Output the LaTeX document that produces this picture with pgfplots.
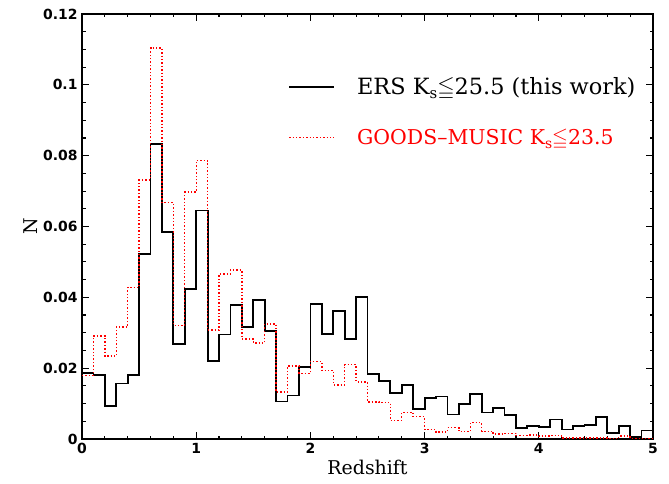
\documentclass[border=0pt]{standalone}
\usepackage{fontspec}
\usepackage{amssymb}
\setmainfont{DejaVu Serif}
\setsansfont{DejaVu Sans}
\usepackage{pgfplots}
\usepackage{pgfplotstable}
\pgfplotsset{compat=1.18}

\pgfplotstableread{
x y
0.0 0.0186
0.1 0.0181
0.2 0.0094
0.3 0.0157
0.4 0.0180
0.5 0.0522
0.6 0.0832
0.7 0.0584
0.8 0.0268
0.9 0.0423
1.0 0.0645
1.1 0.0220
1.2 0.0295
1.3 0.0379
1.4 0.0316
1.5 0.0393
1.6 0.0304
1.7 0.0106
1.8 0.0123
1.9 0.0204
2.0 0.0382
2.1 0.0297
2.2 0.0362
2.3 0.0282
2.4 0.0402
2.5 0.0183
2.6 0.0164
2.7 0.0129
2.8 0.0152
2.9 0.0085
3.0 0.0116
3.1 0.0120
3.2 0.0069
3.3 0.0098
3.4 0.0127
3.5 0.0075
3.6 0.0087
3.7 0.0068
3.8 0.0030
3.9 0.0036
4.0 0.0033
4.1 0.0055
4.2 0.0027
4.3 0.0036
4.4 0.0039
4.5 0.0062
4.6 0.0018
4.7 0.0036
4.8 0.0006
4.9 0.0024
5.0 0.0024
}\ers

\pgfplotstableread{
x y
0.0 0.0179
0.1 0.0291
0.2 0.0234
0.3 0.0316
0.4 0.0428
0.5 0.0731
0.6 0.1104
0.7 0.0667
0.8 0.0321
0.9 0.0697
1.0 0.0786
1.1 0.0308
1.2 0.0466
1.3 0.0477
1.4 0.0282
1.5 0.0271
1.6 0.0325
1.7 0.0133
1.8 0.0206
1.9 0.0185
2.0 0.0219
2.1 0.0194
2.2 0.0153
2.3 0.0210
2.4 0.0161
2.5 0.0105
2.6 0.0103
2.7 0.0053
2.8 0.0075
2.9 0.0063
3.0 0.0027
3.1 0.0020
3.2 0.0032
3.3 0.0021
3.4 0.0046
3.5 0.0022
3.6 0.0014
3.7 0.0016
3.8 0.0010
3.9 0.0011
4.0 0.0008
4.1 0.0010
4.2 0.0003
4.3 0.0003
4.4 0.0003
4.5 0.0003
4.6 0.0001
4.7 0.0008
4.8 0.0002
4.9 0.0001
5.0 0.0001
}\goods

\begin{document}
\begin{tikzpicture}
\begin{axis}[
  scale only axis,
  width=571bp, height=425bp,
  xmin=0, xmax=5, ymin=0, ymax=0.12,
  xtick={0,1,2,3,4,5},
  xticklabels={0,1,2,3,4,5},
  ytick={0,0.02,0.04,0.06,0.08,0.1,0.12},
  yticklabels={0,0.02,0.04,0.06,0.08,0.1,0.12},
  minor x tick num=4,
  minor y tick num=3,
  tick align=inside,
  major tick length=7bp,
  minor tick length=3.5bp,
  axis line style={line width=1.7bp},
  every tick/.style={black, line width=1.1bp},
  tick label style={font=\fontsize{14}{14}\selectfont\sffamily\bfseries},
  /pgf/number format/assume math mode=true,
  xticklabel style={yshift=-1bp},
  yticklabel style={xshift=-1bp},
  xlabel={Redshift},
  ylabel={N},
  label style={font=\fontsize{19}{19}\selectfont},
  xlabel style={yshift=1bp},
  ylabel style={yshift=-2bp},
  legend style={draw=none, fill=none, inner sep=0pt,
    at={(rel axis cs:0.361,0.855)}, anchor=north west,
    row sep=29bp,
    /tikz/every odd column/.append style={column sep=20bp}},
  legend cell align=left,
  legend image code/.code={\draw[#1] (0bp,0bp) -- (45bp,0bp);},
]
\addplot[const plot mark left, black, line width=1.8bp] table[x=x,y=y] {\ers};
\addlegendentry{\fontsize{22.5}{25}\selectfont ERS K\raisebox{-0.35ex}{\fontsize{15}{15}\selectfont s}$\leqq$25.5 (this work)}
\addplot[const plot mark left, red, line width=1.4bp, dash pattern=on 1.4bp off 2bp] table[x=x,y=y] {\goods};
\addlegendentry{\fontsize{20.5}{25}\selectfont\textcolor{red}{GOODS\textendash MUSIC K\raisebox{-0.35ex}{\fontsize{14}{14}\selectfont s}$\leqq$23.5}}
\end{axis}
\pgfresetboundingbox
\path[use as bounding box] ([shift={(-82bp,-44bp)}]current axis.south west) rectangle ([shift={(16bp,14bp)}]current axis.north east);
\end{tikzpicture}
\end{document}
